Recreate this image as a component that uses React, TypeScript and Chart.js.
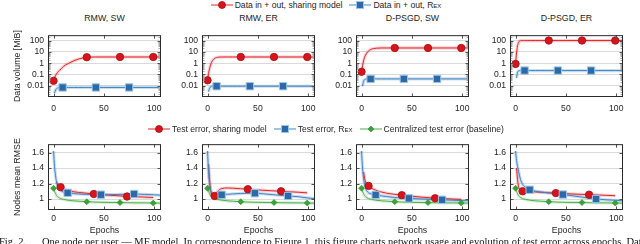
import React, { useEffect, useRef } from "react";
import { Chart, registerables } from "chart.js";

Chart.register(...registerables);

const FONT = '"Liberation Sans", Arial, Helvetica, sans-serif';

// ---------- text / ticks ----------
const PANEL_TITLES = ["RMW, SW", "RMW, ER", "D-PSGD, SW", "D-PSGD, ER"];
const X_TICKS = [0, 50, 100];
const X_TICK_LABELS = ["0", "50", "100"];
const VOLUME_TICKS = [0.01, 0.1, 1, 10, 100];
const VOLUME_TICK_LABELS = ["0.01", "0.1", "1", "10", "100"];
const RMSE_TICKS = [1, 1.2, 1.4, 1.6];
const RMSE_TICK_LABELS = ["1", "1.2", "1.4", "1.6"];

// ---------- top row: data volume (MiB) ----------
const VOLUME_EPOCHS = [0, 1, 2, 3, 4, 5, 6, 8, 9, 10, 12, 15, 20, 25, 30, 33, 35, 42, 50, 66, 75, 99, 106];
const VOLUME_SHARE_RMW_SW = [0.027, 0.05, 0.08, 0.11, 0.15, 0.19, 0.23, 0.35, 0.43, 0.52, 0.7, 0.95, 1.6, 2.3, 3.0, 3.35, 3.45, 3.5, 3.5, 3.5, 3.5, 3.5, 3.5];
const VOLUME_REX_RMW_SW = [null, 0.0022, 0.0042, 0.0055, 0.0063, 0.0067, 0.0069, 0.007, 0.007, 0.007, 0.007, 0.007, 0.007, 0.007, 0.007, 0.007, 0.007, 0.007, 0.007, 0.007, 0.007, 0.007, 0.007];
const VOLUME_SHARE_RMW_ER = [0.03, 0.12, 0.32, 0.7, 1.2, 1.75, 2.2, 2.9, 3.15, 3.3, 3.45, 3.5, 3.5, 3.5, 3.5, 3.5, 3.5, 3.5, 3.5, 3.5, 3.5, 3.5, 3.5];
const VOLUME_REX_RMW_ER = [null, 0.003, 0.006, 0.0078, 0.0086, 0.009, 0.009, 0.009, 0.009, 0.009, 0.009, 0.009, 0.009, 0.009, 0.009, 0.009, 0.009, 0.009, 0.009, 0.009, 0.009, 0.009, 0.009];
const VOLUME_SHARE_DPSGD_SW = [0.17, 0.6, 1.6, 3.2, 5.2, 7.5, 9.8, 14, 16, 17.5, 19.5, 21, 22, 22, 22, 22, 22, 22, 22, 22, 22, 22, 22];
const VOLUME_REX_DPSGD_SW = [null, 0.009, 0.025, 0.034, 0.038, 0.04, 0.04, 0.04, 0.04, 0.04, 0.04, 0.04, 0.04, 0.04, 0.04, 0.04, 0.04, 0.04, 0.04, 0.04, 0.04, 0.04, 0.04];
const VOLUME_SHARE_DPSGD_ER = [0.85, 8, 35, 70, 90, 97, 100, 100, 100, 100, 100, 100, 100, 100, 100, 100, 100, 100, 100, 100, 100, 100, 100];
const VOLUME_REX_DPSGD_ER = [null, 0.05, 0.16, 0.2, 0.215, 0.22, 0.22, 0.22, 0.22, 0.22, 0.22, 0.22, 0.22, 0.22, 0.22, 0.22, 0.22, 0.22, 0.22, 0.22, 0.22, 0.22, 0.22];
const VOLUME_SHARE_MARKS = [0, 33, 66, 99];
const VOLUME_REX_MARKS = [9, 42, 75];

// ---------- bottom row: nodes mean RMSE ----------
const RMSE_EPOCHS = [0, 1, 2, 3, 4, 5, 7, 10, 14, 20, 25, 33, 40, 47, 55, 66, 73, 80, 90, 99, 106];
const RMSE_BASELINE = [1.14, 1.1, 1.07, 1.045, 1.03, 1.02, 1.005, 0.995, 0.985, 0.977, 0.972, 0.965, 0.961, 0.958, 0.956, 0.954, 0.952, 0.951, 0.95, 0.948, 0.947];
const RMSE_REX_RMW_SW = [1.62, 1.42, 1.3, 1.22, 1.17, 1.14, 1.11, 1.09, 1.08, 1.07, 1.065, 1.06, 1.058, 1.056, 1.056, 1.06, 1.063, 1.065, 1.06, 1.055, 1.05];
const RMSE_SHARE_RMW_SW = [null, null, null, 1.22, 1.19, 1.17, 1.154, 1.13, 1.11, 1.095, 1.085, 1.075, 1.065, 1.058, 1.05, 1.04, 1.032, 1.03, 1.025, 1.02, null];
const RMSE_REX_RMW_ER = [1.62, 1.35, 1.2, 1.12, 1.08, 1.06, 1.045, 1.042, 1.055, 1.062, 1.066, 1.072, 1.075, 1.075, 1.068, 1.055, 1.048, 1.04, 1.03, 1.015, 1.005];
const RMSE_SHARE_RMW_ER = [null, 1.45, 1.25, 1.12, 1.07, 1.05, 1.04, 1.1, 1.135, 1.143, 1.14, 1.133, 1.127, 1.12, 1.113, 1.105, 1.1, 1.095, 1.088, 1.08, null];
const RMSE_REX_DPSGD_SW = [1.62, 1.4, 1.27, 1.19, 1.14, 1.11, 1.08, 1.065, 1.053, 1.04, 1.032, 1.02, 1.013, 1.008, 1.003, 0.997, 0.993, 0.99, 0.985, 0.98, 0.978];
const RMSE_SHARE_DPSGD_SW = [null, null, 1.35, 1.27, 1.22, 1.2, 1.17, 1.14, 1.115, 1.09, 1.075, 1.06, 1.05, 1.04, 1.03, 1.018, 1.01, 1.005, 1.0, 0.995, null];
const RMSE_REX_DPSGD_ER = [1.62, 1.5, 1.42, 1.36, 1.3, 1.25, 1.19, 1.15, 1.12, 1.1, 1.09, 1.078, 1.068, 1.058, 1.045, 1.025, 1.012, 1.0, 0.99, 0.983, 0.978];
const RMSE_SHARE_DPSGD_ER = [null, 1.4, 1.25, 1.16, 1.12, 1.105, 1.1, 1.098, 1.095, 1.092, 1.088, 1.082, 1.077, 1.072, 1.066, 1.06, 1.056, 1.053, 1.048, 1.043, null];
const RMSE_SHARE_MARKS = [7, 40, 73];
const RMSE_REX_MARKS = [14, 47, 80];
const RMSE_BASELINE_MARKS = [0, 33, 66, 99];

// ---------- styles ----------
type Kind = "share" | "rex" | "base";
const STYLE: Record<Kind, any> = {
  share: { line: "#e3242b", halo: "rgba(227,36,43,0.22)", fill: "#d7141a", edge: "#a50f15", point: "circle", radius: 3.7, bw: 0.8 },
  rex: { line: "#3f86c6", halo: "rgba(63,134,198,0.28)", fill: "#2b6aa6", edge: "#9ec6ea", point: "rect", radius: 5.2, bw: 1 },
  base: { line: "#4cb04a", halo: "rgba(76,176,74,0.22)", fill: "#3aa338", edge: "#2e8b2c", point: "rectRot", radius: 3, bw: 0.6 },
};

const COL_LEFT = [48, 202, 356, 510];
const BOX_W = 113;
const Y_AXIS_W = 48;
const RIGHT_PAD = 8;

type SeriesSpec = { kind: Kind; values: (number | null)[]; marks: number[] };

const framePlugin = {
  id: "frame",
  afterDraw(chart: any, _args: any, opts: any) {
    const { ctx, chartArea: a, scales } = chart;
    const y = scales.y;
    const x = scales.x;
    ctx.save();
    ctx.lineWidth = 1;
    if (opts.log) {
      ctx.strokeStyle = "#a8a8a8";
      for (let k = -3; k <= 2; k++) {
        for (let m = 2; m <= 9; m++) {
          const v = m * Math.pow(10, k);
          if (v <= y.min || v >= y.max) continue;
          const py = Math.round(y.getPixelForValue(v)) + 0.5;
          ctx.beginPath();
          ctx.moveTo(a.left, py); ctx.lineTo(a.left + 2.5, py);
          ctx.moveTo(a.right - 2.5, py); ctx.lineTo(a.right, py);
          ctx.stroke();
        }
      }
    }
    ctx.strokeStyle = "#555";
    for (const v of opts.yTicks as number[]) {
      const py = Math.round(y.getPixelForValue(v)) + 0.5;
      ctx.beginPath();
      ctx.moveTo(a.left, py); ctx.lineTo(a.left + 3.5, py);
      ctx.moveTo(a.right - 3.5, py); ctx.lineTo(a.right, py);
      ctx.stroke();
    }
    for (const v of X_TICKS) {
      const px = Math.round(x.getPixelForValue(v)) + 0.5;
      ctx.beginPath();
      ctx.moveTo(px, a.bottom); ctx.lineTo(px, a.bottom - 3.5);
      ctx.moveTo(px, a.top); ctx.lineTo(px, a.top + 3.5);
      ctx.stroke();
    }
    ctx.strokeStyle = "#2a2a2a";
    ctx.strokeRect(a.left + 0.5, a.top + 0.5, a.width - 1, a.height - 1);
    ctx.restore();
  },
};

function Panel(props: {
  col: number;
  top: number;
  boxH: number;
  xAxisH: number;
  log: boolean;
  epochs: number[];
  series: SeriesSpec[];
  yTitle?: string;
  xTitle?: string;
  xTickPad: number;
}) {
  const ref = useRef<HTMLCanvasElement | null>(null);
  const width = Y_AXIS_W + BOX_W + RIGHT_PAD;
  const height = 5 + props.boxH + props.xAxisH;
  useEffect(() => {
    if (!ref.current) return;
    const { epochs, series } = props;
    const linePts = (vals: (number | null)[]) => epochs.map((e, i) => ({ x: e, y: vals[i] }));
    const markPts = (vals: (number | null)[], marks: number[]) =>
      marks.map((m) => ({ x: m, y: vals[epochs.indexOf(m)] }));
    const ordered = [...series].reverse(); // later series on top
    const markerSets = ordered.map((s) => {
      const st = STYLE[s.kind];
      return {
        data: markPts(s.values, s.marks),
        showLine: false,
        pointStyle: st.point,
        pointRadius: st.radius,
        pointBackgroundColor: st.fill,
        pointBorderColor: st.edge,
        pointBorderWidth: st.bw,
        clip: false,
      };
    });
    const lineSets = ordered.map((s) => {
      const st = STYLE[s.kind];
      return {
        data: linePts(s.values),
        borderColor: st.line,
        borderWidth: 1,
        pointRadius: 0,
        cubicInterpolationMode: "monotone",
        fill: false,
      };
    });
    const haloSets = ordered.map((s) => {
      const st = STYLE[s.kind];
      return {
        data: linePts(s.values),
        borderColor: st.halo,
        borderWidth: 3.2,
        pointRadius: 0,
        cubicInterpolationMode: "monotone",
        fill: false,
      };
    });
    const yTicks = props.log ? VOLUME_TICKS : RMSE_TICKS;
    const yLabels = props.log ? VOLUME_TICK_LABELS : RMSE_TICK_LABELS;
    const chart = new Chart(ref.current, {
      type: "line",
      data: { datasets: [...markerSets, ...lineSets, ...haloSets] as any },
      plugins: [framePlugin],
      options: {
        responsive: false,
        animation: false,
        devicePixelRatio: 1,
        events: [],
        layout: { padding: { top: 5, right: RIGHT_PAD, left: 0, bottom: 0 } },
        plugins: {
          legend: { display: false },
          tooltip: { enabled: false },
          title: { display: false },
          frame: { log: props.log, yTicks },
        } as any,
        scales: {
          x: {
            type: "linear",
            min: -5.5,
            max: 106.7,
            grid: { display: false, drawTicks: false },
            border: { display: false },
            afterBuildTicks: (s: any) => {
              s.ticks = X_TICKS.map((v) => ({ value: v }));
            },
            afterFit: (s: any) => {
              s.height = props.xAxisH;
            },
            ticks: {
              padding: props.xTickPad,
              maxRotation: 0,
              autoSkip: false,
              color: "#1e1e1e",
              font: { family: FONT, size: 8.6 },
              callback: (v: any) => {
                const i = X_TICKS.indexOf(Number(v));
                return i >= 0 ? X_TICK_LABELS[i] : "";
              },
            },
            title: props.xTitle
              ? { display: true, text: props.xTitle, color: "#1e1e1e", font: { family: FONT, size: 8.8 }, padding: { top: 0, bottom: 1 } }
              : { display: false },
          },
          y: {
            type: props.log ? "logarithmic" : "linear",
            min: props.log ? 0.001 : 0.858,
            max: props.log ? 300 : 1.71,
            grid: { color: "#dadada", lineWidth: 1, drawTicks: false },
            border: { display: false },
            afterBuildTicks: (s: any) => {
              s.ticks = yTicks.map((v) => ({ value: v }));
            },
            afterFit: (s: any) => {
              s.width = Y_AXIS_W;
            },
            ticks: {
              padding: 4,
              autoSkip: false,
              color: "#1e1e1e",
              font: { family: FONT, size: 8.6 },
              callback: (v: any) => {
                const i = yTicks.findIndex((t) => Math.abs(t - Number(v)) < 1e-9);
                return i >= 0 ? yLabels[i] : "";
              },
            },
            title: props.yTitle
              ? { display: true, text: props.yTitle, color: "#1e1e1e", font: { family: FONT, size: 8.8 }, padding: { top: 12.7, bottom: 0 } }
              : { display: false },
          },
        } as any,
      },
    });
    return () => chart.destroy();
  }, []);
  return (
    <canvas
      ref={ref}
      width={width}
      height={height}
      style={{
        position: "absolute",
        left: COL_LEFT[props.col] - Y_AXIS_W,
        top: props.top - 5,
        width,
        height,
      }}
    />
  );
}

function LegendIcon({ kind }: { kind: Kind }) {
  const st = STYLE[kind];
  return (
    <svg width="22" height="10" style={{ display: "block", flex: "none" }}>
      <line x1="0" y1="5" x2="22" y2="5" stroke={st.line} strokeWidth="1" />
      {kind === "share" && <circle cx="11" cy="5" r="3.5" fill={st.fill} stroke={st.edge} strokeWidth="0.8" />}
      {kind === "rex" && <rect x="7.5" y="1.5" width="7" height="7" fill={st.fill} stroke={st.edge} strokeWidth="1" />}
      {kind === "base" && <polygon points="11,2 14,5 11,8 8,5" fill={st.fill} stroke={st.edge} strokeWidth="0.6" />}
    </svg>
  );
}

function Rex() {
  return <span style={{ fontVariant: "small-caps" }}>Rex</span>;
}

function Legend({ top, items }: { top: number; items: { kind: Kind; label: React.ReactNode }[] }) {
  return (
    <div
      style={{
        position: "absolute",
        left: 0,
        width: 652,
        top,
        height: 10,
        display: "flex",
        justifyContent: "center",
        alignItems: "center",
        fontFamily: FONT,
        fontSize: 8.6,
        lineHeight: "10px",
        color: "#1e1e1e",
        whiteSpace: "nowrap",
      }}
    >
      {items.map((it, i) => (
        <div key={i} style={{ display: "flex", alignItems: "center", marginRight: i < items.length - 1 ? 7 : 0 }}>
          <LegendIcon kind={it.kind} />
          <span style={{ marginLeft: 2 }}>{it.label}</span>
        </div>
      ))}
    </div>
  );
}

const TOP_SERIES: SeriesSpec[][] = [
  [
    { kind: "share", values: VOLUME_SHARE_RMW_SW, marks: VOLUME_SHARE_MARKS },
    { kind: "rex", values: VOLUME_REX_RMW_SW, marks: VOLUME_REX_MARKS },
  ],
  [
    { kind: "share", values: VOLUME_SHARE_RMW_ER, marks: VOLUME_SHARE_MARKS },
    { kind: "rex", values: VOLUME_REX_RMW_ER, marks: VOLUME_REX_MARKS },
  ],
  [
    { kind: "share", values: VOLUME_SHARE_DPSGD_SW, marks: VOLUME_SHARE_MARKS },
    { kind: "rex", values: VOLUME_REX_DPSGD_SW, marks: VOLUME_REX_MARKS },
  ],
  [
    { kind: "share", values: VOLUME_SHARE_DPSGD_ER, marks: VOLUME_SHARE_MARKS },
    { kind: "rex", values: VOLUME_REX_DPSGD_ER, marks: VOLUME_REX_MARKS },
  ],
];

const BOTTOM_SERIES: SeriesSpec[][] = [
  [
    { kind: "share", values: RMSE_SHARE_RMW_SW, marks: RMSE_SHARE_MARKS },
    { kind: "rex", values: RMSE_REX_RMW_SW, marks: RMSE_REX_MARKS },
    { kind: "base", values: RMSE_BASELINE, marks: RMSE_BASELINE_MARKS },
  ],
  [
    { kind: "share", values: RMSE_SHARE_RMW_ER, marks: RMSE_SHARE_MARKS },
    { kind: "rex", values: RMSE_REX_RMW_ER, marks: RMSE_REX_MARKS },
    { kind: "base", values: RMSE_BASELINE, marks: RMSE_BASELINE_MARKS },
  ],
  [
    { kind: "share", values: RMSE_SHARE_DPSGD_SW, marks: RMSE_SHARE_MARKS },
    { kind: "rex", values: RMSE_REX_DPSGD_SW, marks: RMSE_REX_MARKS },
    { kind: "base", values: RMSE_BASELINE, marks: RMSE_BASELINE_MARKS },
  ],
  [
    { kind: "share", values: RMSE_SHARE_DPSGD_ER, marks: RMSE_SHARE_MARKS },
    { kind: "rex", values: RMSE_REX_DPSGD_ER, marks: RMSE_REX_MARKS },
    { kind: "base", values: RMSE_BASELINE, marks: RMSE_BASELINE_MARKS },
  ],
];

export default function App() {
  useEffect(() => {
    document.body.style.margin = "0";
  }, []);
  return (
    <div
      style={{
        position: "fixed",
        left: 0,
        top: 0,
        width: 640,
        height: 244,
        overflow: "hidden",
        background: "#fff",
        fontFamily: FONT,
      }}
    >
      <Legend
        top={0}
        items={[
          { kind: "share", label: "Data in + out, sharing model" },
          { kind: "rex", label: <>Data in + out, <Rex /></> },
        ]}
      />
      {PANEL_TITLES.map((t, i) => (
        <div
          key={t}
          style={{
            position: "absolute",
            left: COL_LEFT[i],
            width: BOX_W,
            top: 13,
            height: 10,
            lineHeight: "10px",
            textAlign: "center",
            fontSize: 8.8,
            color: "#1e1e1e",
            whiteSpace: "nowrap",
          }}
        >
          {t}
        </div>
      ))}
      {TOP_SERIES.map((s, i) => (
        <Panel
          key={"t" + i}
          col={i}
          top={31}
          boxH={66}
          xAxisH={18}
          log={true}
          epochs={VOLUME_EPOCHS}
          series={s}
          yTitle={i === 0 ? "Data volume [MiB]" : undefined}
          xTickPad={6}
        />
      ))}
      <Legend
        top={124}
        items={[
          { kind: "share", label: "Test error, sharing model" },
          { kind: "rex", label: <>Test error, <Rex /></> },
          { kind: "base", label: "Centralized test error (baseline)" },
        ]}
      />
      {BOTTOM_SERIES.map((s, i) => (
        <Panel
          key={"b" + i}
          col={i}
          top={140}
          boxH={70}
          xAxisH={27}
          log={false}
          epochs={RMSE_EPOCHS}
          series={s}
          yTitle={i === 0 ? "Nodes mean RMSE" : undefined}
          xTitle="Epochs"
          xTickPad={3}
        />
      ))}
      <div
        style={{
          position: "absolute",
          left: -1,
          top: 235.5,
          width: 700,
          fontFamily: '"Liberation Serif", "Times New Roman", serif',
          fontSize: 10.5,
          lineHeight: "12px",
          color: "#111",
          whiteSpace: "nowrap",
        }}
      >
        Fig. 2.{"\u2003\u2002"}One node per user — MF model. In correspondence to Figure 1, this figure charts network usage and evolution of test error across epochs. Data
      </div>
    </div>
  );
}
